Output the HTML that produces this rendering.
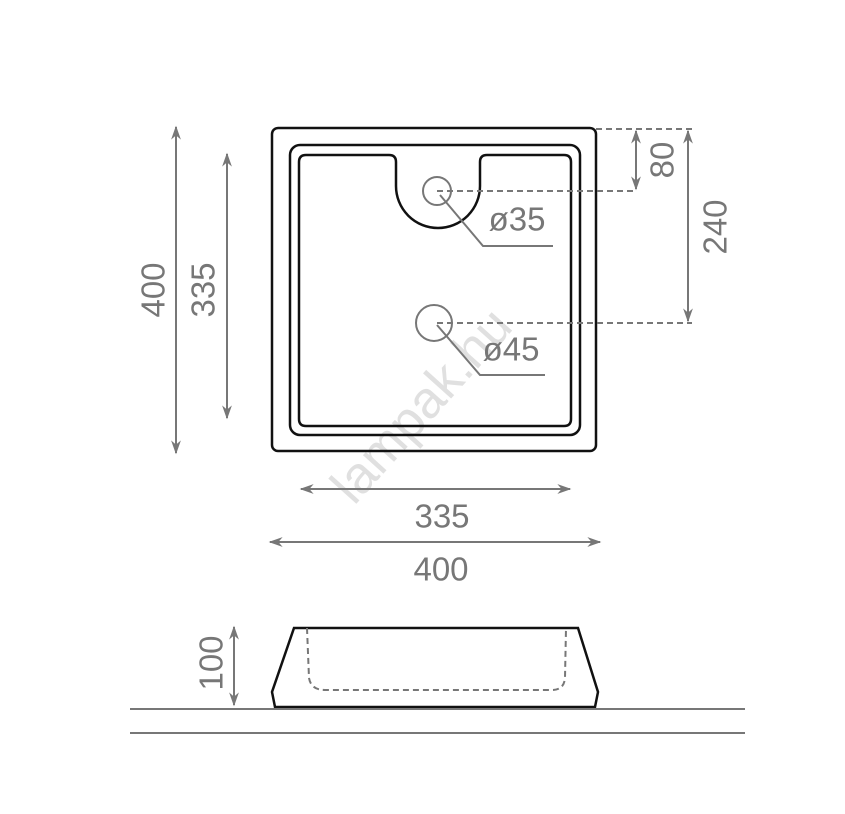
<!DOCTYPE html>
<html><head><meta charset="utf-8"><style>html,body{margin:0;padding:0;background:#fff}svg{display:block}</style></head><body>
<svg width="845" height="814" viewBox="0 0 845 814" xmlns="http://www.w3.org/2000/svg" font-family="'Liberation Sans', sans-serif">
<defs>
<marker id="a" viewBox="0 0 10 10" refX="9" refY="5" markerWidth="7" markerHeight="7" orient="auto-start-reverse"><path d="M0,1.5 L10,5 L0,8.5 L3,5 z" fill="#777"/></marker>
</defs>
<text x="0" y="0" transform="translate(424,408) rotate(-48)" text-anchor="middle" dominant-baseline="middle" font-size="52" fill="#e0e0e0">lampak.hu</text>
<g fill="none" stroke="#111" stroke-width="2.5">
<rect x="272" y="128" width="324" height="323" rx="6"/>
<rect x="290" y="145" width="290" height="290" rx="10"/>
<path d="M306,155 L389,155 Q396,155 396,162 L396,186 A42,42 0 0 0 480,186 L480,162 Q480,155 487,155 L564,155 Q571,155 571,162 L571,419 Q571,426 564,426 L306,426 Q299,426 299,419 L299,162 Q299,155 306,155 Z"/>
<path d="M294,628 L578,628 L598,692 L595,707 L275,707 L272,692 Z"/>
</g>
<g fill="none" stroke="#777" stroke-width="2">
<circle cx="437" cy="191" r="14"/>
<circle cx="434" cy="323" r="18"/>
<polyline points="440,195 483,246 553,246"/>
<polyline points="437,325 480,375 545,375"/>
<g stroke-dasharray="6,4">
<line x1="596" y1="129" x2="692" y2="129"/>
<line x1="437" y1="191" x2="636" y2="191"/>
<line x1="437" y1="323" x2="692" y2="323"/>
<path d="M307,628 L309,678 Q311,690 325,690 L552,690 Q564,690 565,678 L566,628"/>
</g>
<line x1="636" y1="131" x2="636" y2="189" marker-start="url(#a)" marker-end="url(#a)"/>
<line x1="688" y1="131" x2="688" y2="321" marker-start="url(#a)" marker-end="url(#a)"/>
<line x1="176" y1="127" x2="176" y2="453" marker-start="url(#a)" marker-end="url(#a)"/>
<line x1="227" y1="154" x2="227" y2="418" marker-start="url(#a)" marker-end="url(#a)"/>
<line x1="301" y1="489" x2="570" y2="489" marker-start="url(#a)" marker-end="url(#a)"/>
<line x1="270" y1="542" x2="600" y2="542" marker-start="url(#a)" marker-end="url(#a)"/>
<line x1="234" y1="627" x2="234" y2="705" marker-start="url(#a)" marker-end="url(#a)"/>
<line x1="130" y1="709" x2="745" y2="709"/>
<line x1="130" y1="733" x2="745" y2="733"/>
</g>
<g fill="#777" font-size="33" text-anchor="middle" dominant-baseline="central">
<text x="517" y="219">ø35</text>
<text x="511" y="349">ø45</text>
<text x="442" y="516">335</text>
<text x="441" y="569">400</text>
<text transform="translate(662,160) rotate(-90)">80</text>
<text transform="translate(715,227) rotate(-90)">240</text>
<text transform="translate(153,290) rotate(-90)">400</text>
<text transform="translate(203,290) rotate(-90)">335</text>
<text transform="translate(211,663) rotate(-90)">100</text>
</g>
</svg>
</body></html>
